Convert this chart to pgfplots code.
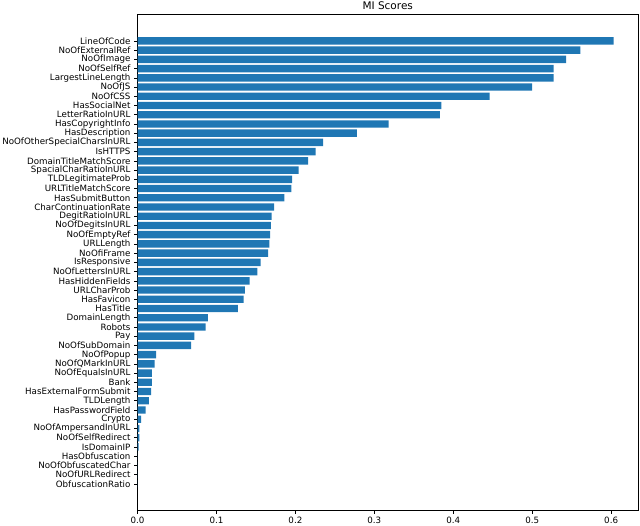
\documentclass[border=0pt]{standalone}
\usepackage{fontspec}
\setmainfont{DejaVu Sans}
\usepackage{pgfplots}
\usepackage{pgfplotstable}
\pgfplotsset{compat=1.18}
\definecolor{barblue}{HTML}{1F77B4}

% MI scores, top to bottom as drawn
\pgfplotstableread{
idx score name
0 0.603 LineOfCode
1 0.561 NoOfExternalRef
2 0.543 NoOfImage
3 0.527 NoOfSelfRef
4 0.527 LargestLineLength
5 0.500 NoOfJS
6 0.446 NoOfCSS
7 0.385 HasSocialNet
8 0.383 LetterRatioInURL
9 0.318 HasCopyrightInfo
10 0.278 HasDescription
11 0.235 NoOfOtherSpecialCharsInURL
12 0.2255 IsHTTPS
13 0.216 DomainTitleMatchScore
14 0.204 SpacialCharRatioInURL
15 0.196 TLDLegitimateProb
16 0.195 URLTitleMatchScore
17 0.186 HasSubmitButton
18 0.173 CharContinuationRate
19 0.170 DegitRatioInURL
20 0.169 NoOfDegitsInURL
21 0.168 NoOfEmptyRef
22 0.167 URLLength
23 0.1655 NoOfiFrame
24 0.156 IsResponsive
25 0.152 NoOfLettersInURL
26 0.142 HasHiddenFields
27 0.136 URLCharProb
28 0.1345 HasFavicon
29 0.127 HasTitle
30 0.0893 DomainLength
31 0.0863 Robots
32 0.072 Pay
33 0.068 NoOfSubDomain
34 0.0237 NoOfPopup
35 0.0216 NoOfQMarkInURL
36 0.0183 NoOfEqualsInURL
37 0.0183 Bank
38 0.0174 HasExternalFormSubmit
39 0.0145 TLDLength
40 0.0102 HasPasswordField
41 0.0047 Crypto
42 0.0025 NoOfAmpersandInURL
43 0.0025 NoOfSelfRedirect
44 0.0013 IsDomainIP
45 0 HasObfuscation
46 0 NoOfObfuscatedChar
47 0 NoOfURLRedirect
48 0 ObfuscationRatio
}\mitable

\begin{document}
\begin{tikzpicture}
\useasboundingbox (0,0) rectangle (640pt,525pt);
\begin{axis}[
  at={(137.5pt,15pt)}, anchor=south west,
  scale only axis, width=500.5pt, height=495.3pt,
  xbar, bar width=0.8, bar shift=0pt,
  xmin=0, xmax=0.634, ymin=-2.84, ymax=50.84, y dir=reverse,
  ytick=data, yticklabels from table={\mitable}{name},
  xtick={0,0.1,0.2,0.3,0.4,0.5,0.6},
  xticklabel style={/pgf/number format/.cd, fixed, fixed zerofill, precision=1},
  /pgf/number format/assume math mode=true,
  tick label style={font=\fontsize{8.7}{10}\selectfont, black},
  tick align=outside, major tick length=3.5pt,
  xtick pos=bottom, ytick pos=left,
  tick style={black, line width=0.6pt},
  axis line style={black, line width=0.6pt},
  title={MI Scores},
  title style={font=\fontsize{10.5}{12}\selectfont, anchor=base, inner sep=0pt, yshift=-0.5pt},
]
\addplot[fill=barblue, draw=none] table[x=score, y=idx] {\mitable};
\end{axis}
\end{tikzpicture}
\end{document}
